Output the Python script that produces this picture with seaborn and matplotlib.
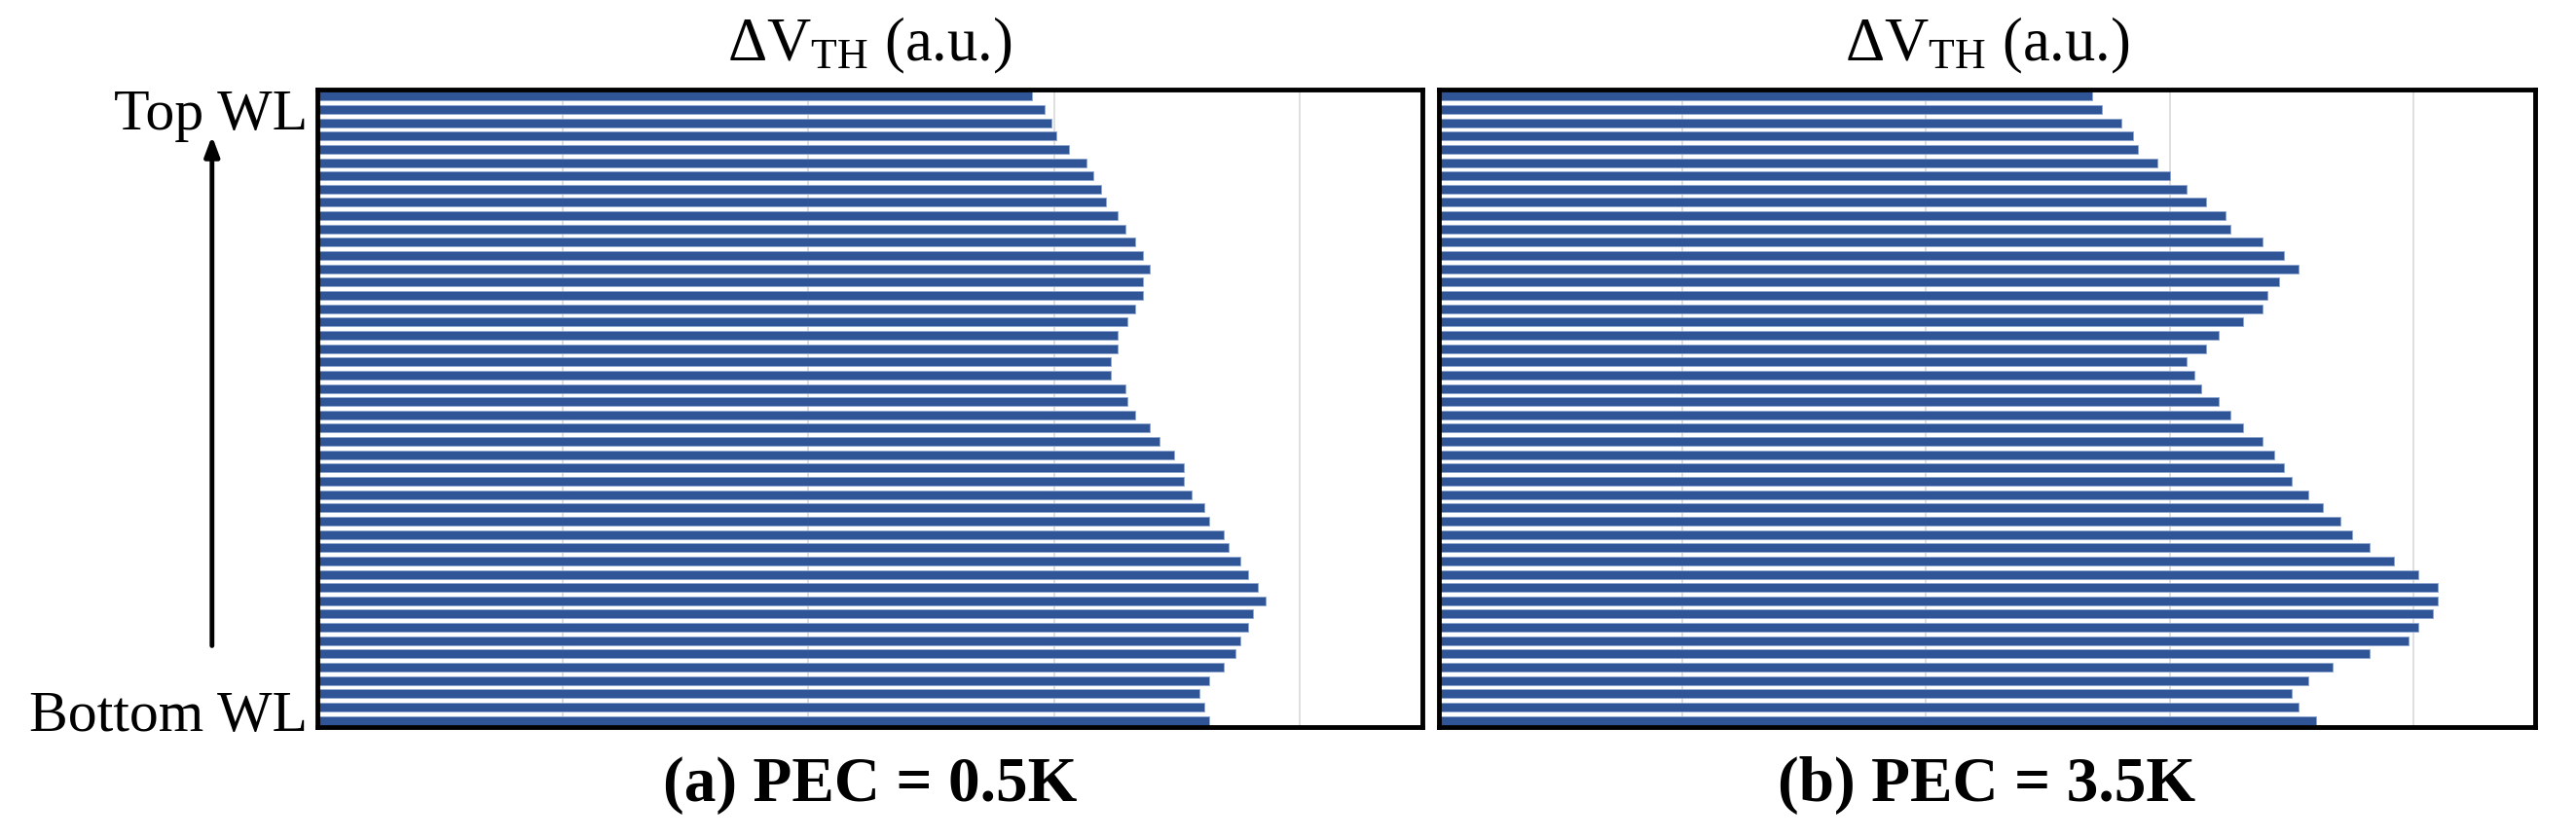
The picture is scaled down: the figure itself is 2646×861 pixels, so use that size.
import matplotlib
matplotlib.use("Agg")
import matplotlib.pyplot as plt
import seaborn as sns

# bar lengths, listed from top WL down to bottom WL
dvth_pec05 = [2.91, 2.96, 2.99, 3.01, 3.06, 3.13, 3.16, 3.19, 3.21, 3.26,
              3.29, 3.33, 3.36, 3.39, 3.36, 3.36, 3.33, 3.30, 3.26, 3.26,
              3.23, 3.23, 3.29, 3.30, 3.33, 3.39, 3.43, 3.49, 3.53, 3.53,
              3.56, 3.61, 3.63, 3.69, 3.71, 3.76, 3.79, 3.83, 3.86, 3.81,
              3.79, 3.76, 3.74, 3.69, 3.63, 3.59, 3.61, 3.63]
dvth_pec35 = [2.68, 2.72, 2.80, 2.85, 2.87, 2.95, 3.00, 3.07, 3.15, 3.23,
              3.25, 3.38, 3.47, 3.53, 3.45, 3.40, 3.38, 3.30, 3.20, 3.15,
              3.07, 3.10, 3.13, 3.20, 3.25, 3.30, 3.38, 3.43, 3.47, 3.50,
              3.57, 3.63, 3.70, 3.75, 3.82, 3.92, 4.02, 4.10, 4.10, 4.08,
              4.02, 3.98, 3.82, 3.67, 3.57, 3.50, 3.53, 3.60]
wordlines = [f"WL{i}" for i in range(len(dvth_pec05), 0, -1)]
captions = ["(a) PEC = 0.5K", "(b) PEC = 3.5K"]
grid_ticks = [1, 2, 3, 4]

BAR_COLOR = "#2f5597"
FONT = "Liberation Serif"

sns.set_style("white")
plt.rcParams["font.family"] = [FONT, "DejaVu Serif"]
plt.rcParams["text.color"] = "black"
plt.rcParams["mathtext.fontset"] = "custom"
plt.rcParams["mathtext.rm"] = FONT
plt.rcParams["mathtext.it"] = FONT + ":italic"

fig = plt.figure(figsize=(26.46, 8.62), dpi=100)
ax_a = fig.add_axes([0.1232, 0.1323, 0.4290, 0.7598])
ax_b = fig.add_axes([0.5586, 0.1323, 0.4255, 0.7598])

for ax, vals, cap in zip([ax_a, ax_b], [dvth_pec05, dvth_pec35], captions):
    sns.barplot(x=vals, y=wordlines, orient="h", color=BAR_COLOR,
                width=0.66, saturation=1, edgecolor="#8da6d2",
                linewidth=0.6, ax=ax)
    ax.set_xlim(0, 4.5)
    ax.set_xticks(grid_ticks)
    ax.set_xticklabels([])
    ax.set_yticks([])
    ax.tick_params(length=0)
    ax.grid(axis="x", color="#d9d9d9", linewidth=1.2)
    ax.set_axisbelow(True)
    ax.set_xlabel("")
    ax.set_ylabel("")
    for sp in ax.spines.values():
        sp.set_visible(True)
        sp.set_color("black")
        sp.set_linewidth(3.5)
    pos = ax.get_position()
    xc = (pos.x0 + pos.x1) / 2
    fig.text(xc, 0.928, r"ΔV$_{\mathrm{TH}}$ (a.u.)", ha="center",
             va="baseline", fontsize=45)
    fig.text(xc, 0.045, cap, ha="center", va="baseline",
             fontsize=47, fontweight="bold")

fig.text(0.1194, 0.846, "Top WL", ha="right", va="baseline", fontsize=43)
fig.text(0.1194, 0.129, "Bottom WL", ha="right", va="baseline", fontsize=43)
ax_a.annotate("", xy=(0.0823, 0.840), xytext=(0.0823, 0.226),
              xycoords="figure fraction", textcoords="figure fraction",
              arrowprops=dict(arrowstyle="-|>,head_length=1.2,head_width=0.45",
                              color="black", linewidth=3.5))

fig.savefig("out.png", dpi=100)
